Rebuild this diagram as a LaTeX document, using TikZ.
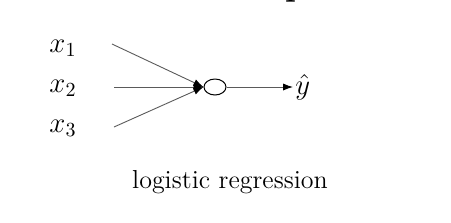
\documentclass[tikz,border=0pt]{standalone}
\usepackage{amsmath,amssymb}
\usetikzlibrary{arrows.meta,positioning,shapes.geometric}
\definecolor{wire}{RGB}{90,90,90}

\begin{document}
\begin{tikzpicture}[x=0.5pt,y=-0.5pt,
  feed/.style={draw=wire,line width=0.45pt,-{Latex[length=5pt,width=3.6pt,color=black]}},
  unit/.style={draw,ellipse,line width=0.5pt,minimum width=11pt,minimum height=8pt,inner sep=0pt}]
  \useasboundingbox (0,0) rectangle (451,222);
  \node[anchor=base,font=\LARGE\bfseries] (title) at (296,-5) {p};
  \foreach \i/\y in {1/48,2/88,3/128}{
    \node[font=\fontsize{14}{16}\selectfont] (x\i) at (63,\y) {$x_\i$};
  }
  \coordinate (in1) at (112,44);
  \coordinate (in2) at (114,87);
  \coordinate (in3) at (114,127);
  \node[unit] (sig) at (215,87) {};
  \foreach \i in {1,2,3}{
    \draw[feed] (in\i) -- (sig.west);
  }
  \node[anchor=west,font=\fontsize{14}{16}\selectfont,inner sep=1pt] (yhat) at (293,87) {$\hat{y}$};
  \draw[feed] (sig.east) -- (yhat.west);
  \node[font=\fontsize{13}{15}\selectfont] (cap) at (230,182) {logistic regression};
\end{tikzpicture}
\end{document}
